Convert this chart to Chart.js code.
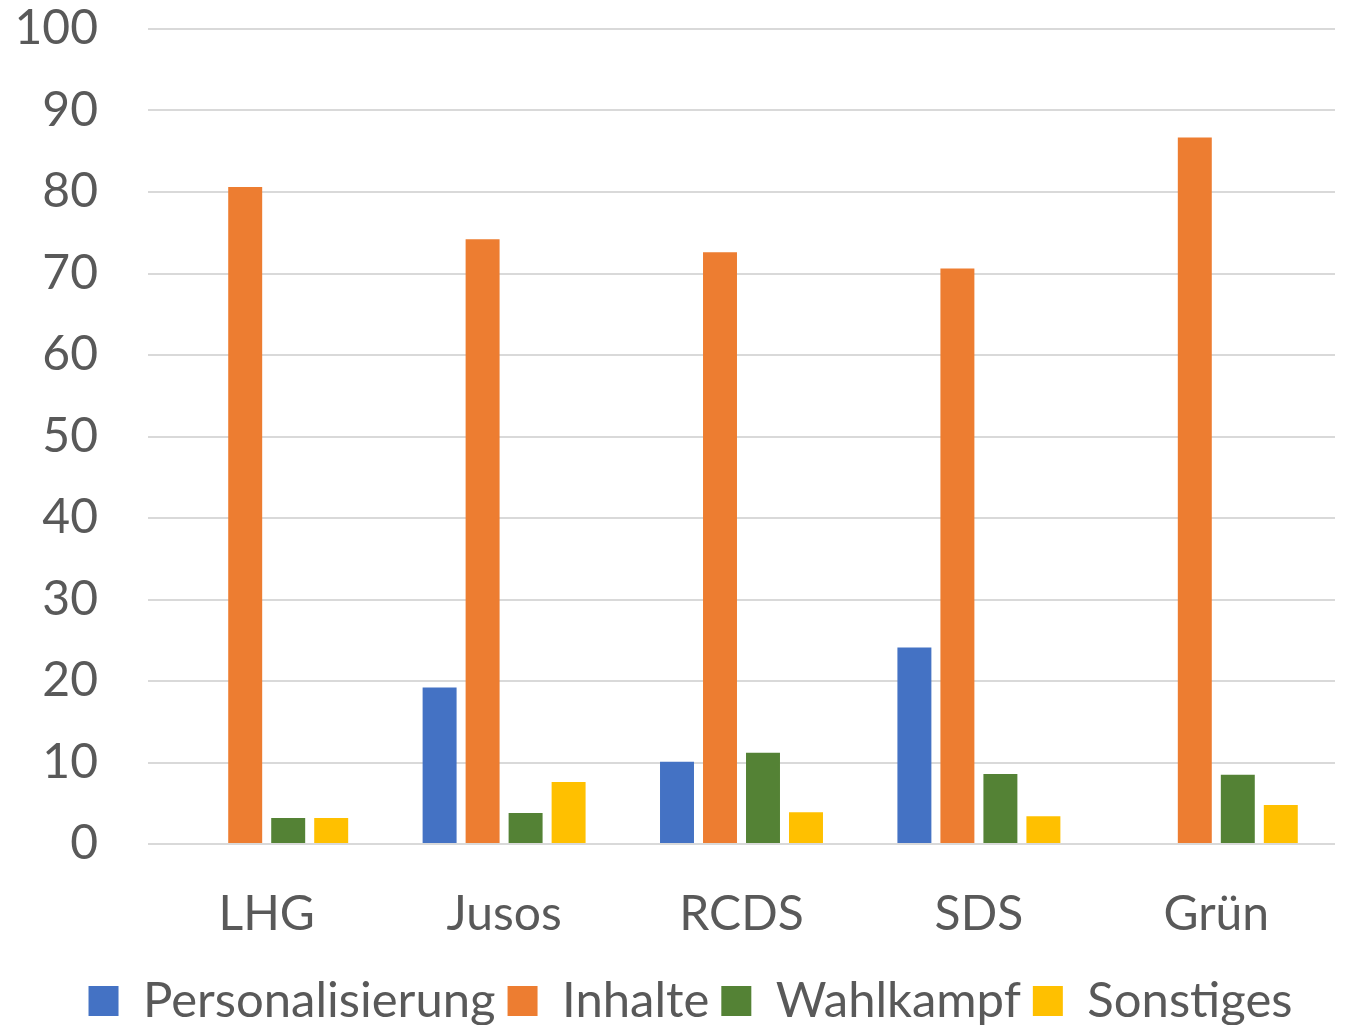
<!DOCTYPE html>
<html>
<head>
<meta charset="utf-8">
<script src="https://cdn.jsdelivr.net/npm/chart.js@4"></script>
<style>
  html, body { margin: 0; padding: 0; background: #ffffff; }
  #wrap { width: 1348px; height: 1025px; }
</style>
</head>
<body>
<div id="wrap"><canvas id="c" width="1348" height="1025"></canvas></div>
<script>
const categories = ["LHG", "Jusos", "RCDS", "SDS", "Grün"];
const personalisierung = [0, 19.2, 10.1, 24.1, 0];
const inhalte = [80.6, 74.2, 72.6, 70.6, 86.7];
const wahlkampf = [3.2, 3.8, 11.2, 8.6, 8.5];
const sonstiges = [3.2, 7.6, 3.9, 3.4, 4.8];
const seriesNames = ["Personalisierung", "Inhalte", "Wahlkampf", "Sonstiges"];
const seriesColors = ["#4472C4", "#ED7D31", "#548235", "#FFC000"];
const yTicks = { min: 0, max: 100, step: 10 };

const FONT = "Lato, 'Open Sans', sans-serif";
const TEXT = "#595959";

const seriesData = [personalisierung, inhalte, wahlkampf, sonstiges];
const datasets = seriesNames.map((n, i) => ({
  label: n,
  data: seriesData[i],
  backgroundColor: seriesColors[i],
  borderWidth: 0,
  categoryPercentage: 0.7245,
  barPercentage: 0.79
}));

// nudge legend row to sit like the reference
const legendNudge = {
  id: 'legendNudge',
  afterLayout(chart) {
    const lg = chart.legend;
    if (!lg) return;
    const dy = 1000 - (lg.top + lg.height / 2);
    const dx = 23;
    lg.top += dy; lg.bottom += dy;
    lg.left += dx; lg.right += dx;
  }
};

new Chart(document.getElementById('c'), {
  type: 'bar',
  data: { labels: categories, datasets },
  plugins: [legendNudge],
  options: {
    responsive: false,
    animation: false,
    devicePixelRatio: 1,
    layout: { padding: { top: 29, right: 13, left: 0, bottom: 0 } },
    plugins: {
      tooltip: { enabled: false },
      legend: {
        position: 'bottom',
        labels: {
          color: TEXT,
          font: { family: FONT, size: 49 },
          boxWidth: 30,
          boxHeight: 30,
          padding: 12
        }
      }
    },
    scales: {
      x: {
        grid: { display: false, drawTicks: false },
        border: { display: false },
        ticks: { color: TEXT, font: { family: FONT, size: 48 }, padding: 42 },
        afterFit(scale) { scale.height = 110; }
      },
      y: {
        min: yTicks.min,
        max: yTicks.max,
        grid: { color: "#d9d9d9", lineWidth: 2, drawTicks: false },
        border: { display: false },
        ticks: { stepSize: yTicks.step, color: TEXT, font: { family: FONT, size: 48 }, padding: 50 },
        afterFit(scale) { scale.width = 148; scale.paddingTop = 0; scale.paddingBottom = 0; }
      }
    }
  }
});
</script>
</body>
</html>
